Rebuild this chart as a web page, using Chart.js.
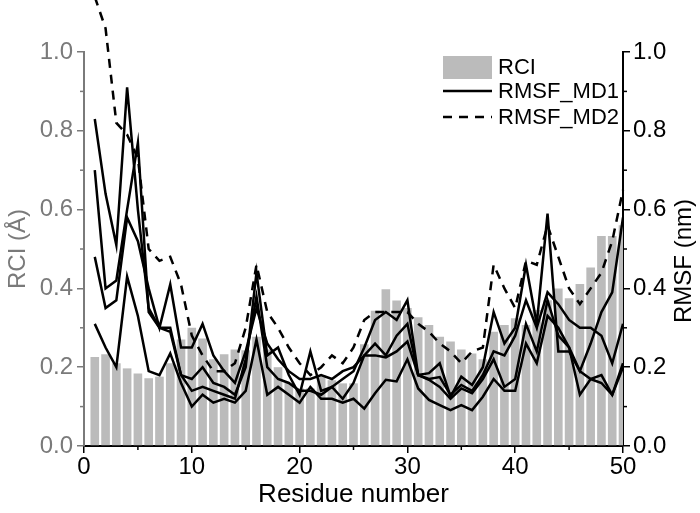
<!DOCTYPE html>
<html>
<head>
<meta charset="utf-8">
<script src="https://cdn.jsdelivr.net/npm/chart.js@4.4.1/dist/chart.umd.min.js"></script>
<style>
  html, body { margin: 0; padding: 0; background: #fff; }
  #wrap { width: 700px; height: 513px; }
</style>
</head>
<body>
<div id="wrap"><canvas id="chart" width="700" height="513"></canvas></div>
<script>
// residue numbers
const residues = [1, 2, 3, 4, 5, 6, 7, 8, 9, 10, 11, 12, 13, 14, 15, 16, 17, 18, 19, 20,
  21, 22, 23, 24, 25, 26, 27, 28, 29, 30, 31, 32, 33, 34, 35, 36, 37, 38, 39, 40,
  41, 42, 43, 44, 45, 46, 47, 48, 49, 50];

// RCI bars (left axis)
const rci = [0.226, 0.233, 0.21, 0.197, 0.184, 0.172, 0.176, 0.21, 0.27, 0.30, 0.273, 0.22,
  0.233, 0.245, 0.243, 0.277, 0.245, 0.20, 0.16, 0.146, 0.146, 0.18, 0.167, 0.159, 0.159,
  0.258, 0.343, 0.398, 0.369, 0.35, 0.327, 0.307, 0.277, 0.265, 0.245, 0.235, 0.22,
  0.29, 0.307, 0.324, 0.307, 0.345, 0.37, 0.40, 0.375, 0.411, 0.453, 0.533, 0.533, 0.56];

// RMSF MD1 runs (solid)
const md1a = [0.83, 0.64, 0.51, 0.91, 0.60, 0.35, 0.30, 0.29, 0.18, 0.17, 0.20, 0.16,
  0.15, 0.13, 0.20, 0.44, 0.23, 0.25, 0.18, 0.13, 0.24, 0.14, 0.15, 0.17, 0.19,
  0.25, 0.32, 0.34, 0.32, 0.37, 0.18, 0.185, 0.21, 0.125, 0.176, 0.155, 0.20,
  0.34, 0.26, 0.30, 0.46, 0.31, 0.59, 0.24, 0.24, 0.19, 0.17, 0.16, 0.13, 0.21];
const md1b = [0.70, 0.40, 0.42, 0.60, 0.77, 0.34, 0.30, 0.30, 0.18, 0.14, 0.15, 0.14,
  0.13, 0.12, 0.22, 0.38, 0.20, 0.17, 0.16, 0.14, 0.14, 0.13, 0.15, 0.12, 0.16,
  0.23, 0.26, 0.23, 0.28, 0.31, 0.18, 0.17, 0.175, 0.13, 0.155, 0.14, 0.18,
  0.24, 0.23, 0.28, 0.37, 0.30, 0.39, 0.36, 0.32, 0.30, 0.30, 0.28, 0.21, 0.31];
const md1c = [0.48, 0.35, 0.37, 0.58, 0.52, 0.40, 0.30, 0.41, 0.25, 0.25, 0.31, 0.23,
  0.19, 0.16, 0.24, 0.35, 0.26, 0.22, 0.19, 0.17, 0.17, 0.18, 0.17, 0.19, 0.20,
  0.23, 0.23, 0.225, 0.24, 0.265, 0.18, 0.168, 0.15, 0.12, 0.146, 0.134, 0.17,
  0.22, 0.15, 0.17, 0.31, 0.24, 0.37, 0.28, 0.25, 0.19, 0.26, 0.34, 0.39, 0.58];
const md1d = [0.31, 0.25, 0.20, 0.43, 0.33, 0.19, 0.18, 0.235, 0.16, 0.10, 0.13, 0.11,
  0.12, 0.11, 0.14, 0.27, 0.13, 0.15, 0.13, 0.11, 0.15, 0.12, 0.12, 0.11, 0.12,
  0.095, 0.134, 0.168, 0.164, 0.22, 0.146, 0.117, 0.104, 0.091, 0.104, 0.091, 0.125,
  0.17, 0.14, 0.14, 0.26, 0.21, 0.33, 0.30, 0.25, 0.13, 0.17, 0.18, 0.13, 0.20];

// RMSF MD2 (dashed)
const md2 = [1.14, 1.06, 0.82, 0.79, 0.73, 0.50, 0.47, 0.48, 0.41, 0.28, 0.23, 0.19,
  0.19, 0.21, 0.30, 0.46, 0.34, 0.30, 0.25, 0.21, 0.18, 0.20, 0.23, 0.21, 0.25,
  0.32, 0.34, 0.34, 0.34, 0.34, 0.31, 0.29, 0.26, 0.24, 0.21, 0.24, 0.25,
  0.46, 0.40, 0.35, 0.47, 0.46, 0.56, 0.48, 0.40, 0.36, 0.40, 0.44, 0.52, 0.65];

// ticks
const xMinor = [5, 15, 25, 35, 45];
const yMinor = [0.1, 0.3, 0.5, 0.7, 0.9];

const GRAY = '#7a7a7a';
const FONT = '"Liberation Sans", Arial, sans-serif';

function pts(vals) {
  return residues.map((r, i) => ({ x: r, y: vals[i] }));
}

function solid(vals) {
  return {
    type: 'line', label: 'RMSF_MD1', data: pts(vals), yAxisID: 'y1',
    borderColor: '#000', borderWidth: 2.5, pointRadius: 0, tension: 0,
    borderJoinStyle: 'miter', order: 1
  };
}

// minor tick marks + right title + legend
const extras = {
  id: 'extras',
  afterDraw(chart) {
    const ctx = chart.ctx;
    const area = chart.chartArea;
    const x = chart.scales.x, y = chart.scales.y, y1 = chart.scales.y1;
    ctx.save();
    ctx.lineWidth = 1.5;
    ctx.strokeStyle = '#000';
    xMinor.forEach(v => {
      const px = x.getPixelForValue(v);
      ctx.beginPath(); ctx.moveTo(px, area.bottom); ctx.lineTo(px, area.bottom + 4); ctx.stroke();
    });
    yMinor.forEach(v => {
      const py = y1.getPixelForValue(v);
      ctx.beginPath(); ctx.moveTo(area.right, py); ctx.lineTo(area.right + 4, py); ctx.stroke();
    });
    ctx.strokeStyle = GRAY;
    yMinor.forEach(v => {
      const py = y.getPixelForValue(v);
      ctx.beginPath(); ctx.moveTo(area.left, py); ctx.lineTo(area.left - 4, py); ctx.stroke();
    });

    // right axis title, reads bottom to top
    ctx.fillStyle = '#000';
    ctx.font = '24px ' + FONT;
    ctx.textAlign = 'center';
    ctx.textBaseline = 'middle';
    ctx.translate(684, (area.top + area.bottom) / 2 + 12);
    ctx.rotate(-Math.PI / 2);
    ctx.fillText('RMSF (nm)', 0, 0);
    ctx.restore();

    // legend
    ctx.save();
    const lx = area.right - 180, ly = area.top + 15;
    ctx.font = '22px ' + FONT;
    ctx.textBaseline = 'middle';
    ctx.textAlign = 'left';
    ctx.fillStyle = '#bbbbbb';
    ctx.fillRect(lx, ly - 11, 49, 23);
    ctx.fillStyle = '#000';
    ctx.fillText('RCI', lx + 55, ly + 1);
    ctx.lineWidth = 2.5;
    ctx.strokeStyle = '#000';
    ctx.beginPath(); ctx.moveTo(lx, ly + 24); ctx.lineTo(lx + 49, ly + 24); ctx.stroke();
    ctx.fillText('RMSF_MD1', lx + 55, ly + 25);
    ctx.setLineDash([9, 7]);
    ctx.beginPath(); ctx.moveTo(lx, ly + 50); ctx.lineTo(lx + 49, ly + 50); ctx.stroke();
    ctx.setLineDash([]);
    ctx.fillText('RMSF_MD2', lx + 55, ly + 51);
    ctx.restore();
  }
};

const ctx = document.getElementById('chart');

new Chart(ctx, {
  data: {
    datasets: [
      {
        type: 'bar', label: 'RCI', data: pts(rci), yAxisID: 'y',
        backgroundColor: '#bbbbbb', borderWidth: 0,
        barPercentage: 0.8, categoryPercentage: 1, order: 2
      },
      solid(md1a),
      solid(md1b),
      solid(md1c),
      solid(md1d),
      {
        type: 'line', label: 'RMSF_MD2', data: pts(md2), yAxisID: 'y1',
        borderColor: '#000', borderWidth: 2.5, borderDash: [9, 7], pointRadius: 0,
        tension: 0, borderJoinStyle: 'miter', clip: false, order: 1
      }
    ]
  },
  options: {
    responsive: false,
    animation: false,
    layout: { padding: { top: 52, left: 0, right: 0, bottom: 0 } },
    plugins: { legend: { display: false }, tooltip: { enabled: false } },
    scales: {
      x: {
        type: 'linear', min: 0, max: 50, offset: false,
        afterFit(scale) { scale.height = 67; },
        border: { color: '#000', width: 2 },
        grid: { drawOnChartArea: false, drawTicks: true, tickLength: 7, color: '#000', lineWidth: 1.5, offset: false },
        ticks: { stepSize: 10, color: '#000', font: { family: FONT, size: 24 }, padding: 0, maxRotation: 0 },
        title: { display: true, text: 'Residue number', color: '#000', font: { family: FONT, size: 26 }, padding: { top: 0, bottom: 3 } }
      },
      y: {
        position: 'left', min: 0, max: 1,
        afterFit(scale) { scale.width = 84; },
        border: { color: GRAY, width: 2 },
        grid: { drawOnChartArea: false, drawTicks: true, tickLength: 7, color: GRAY, lineWidth: 1.5 },
        ticks: { stepSize: 0.2, color: GRAY, font: { family: FONT, size: 24 }, padding: 4,
          callback: v => v.toFixed(1) },
        title: { display: true, text: 'RCI (Å)', color: GRAY, font: { family: FONT, size: 24 }, padding: { top: 4, bottom: 0 } }
      },
      y1: {
        position: 'right', min: 0, max: 1,
        afterFit(scale) { scale.width = 77; },
        border: { color: '#000', width: 2 },
        grid: { drawOnChartArea: false, drawTicks: true, tickLength: 7, color: '#000', lineWidth: 1.5 },
        ticks: { stepSize: 0.2, color: '#000', font: { family: FONT, size: 24 }, padding: 3,
          callback: v => v.toFixed(1) }
      }
    }
  },
  plugins: [extras]
});
</script>
</body>
</html>
